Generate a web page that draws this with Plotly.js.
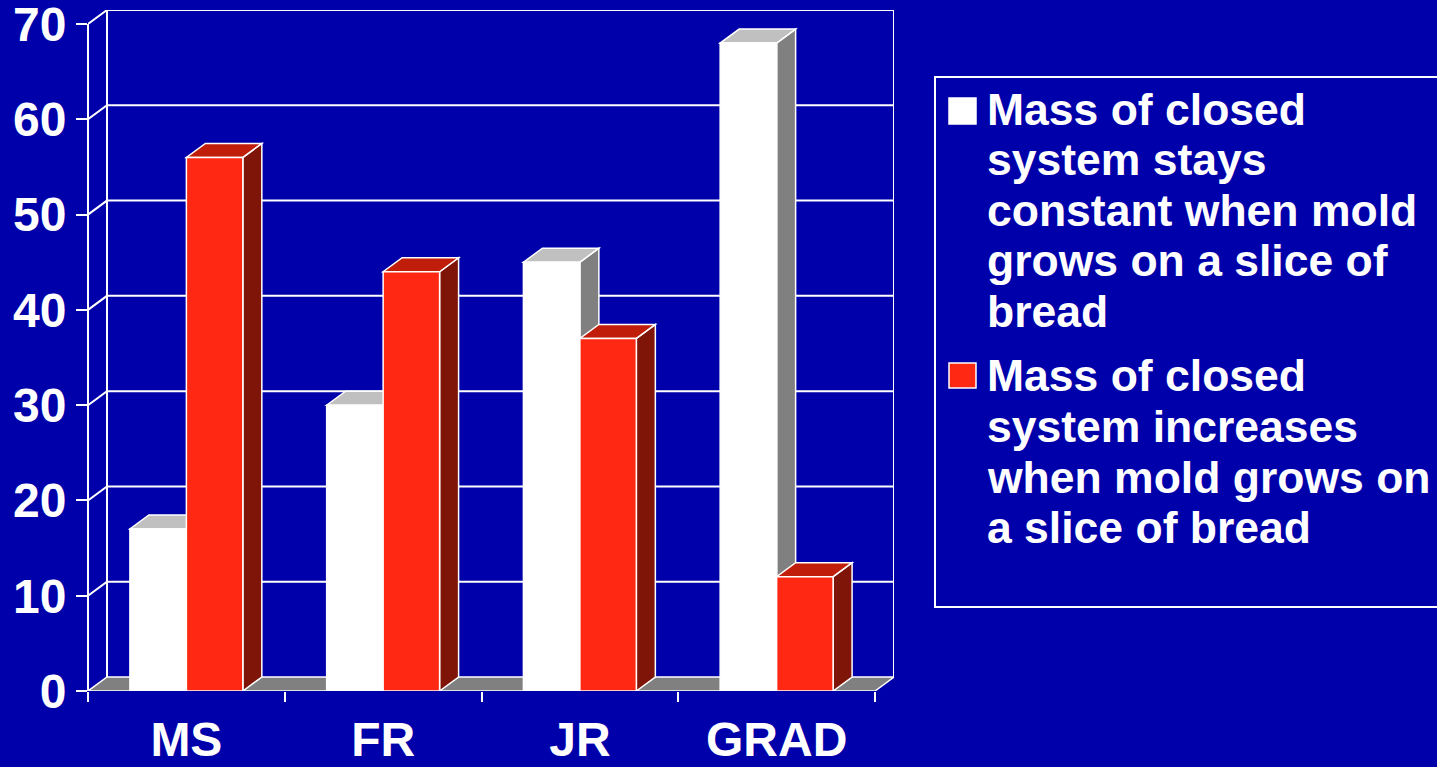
<!DOCTYPE html>
<html>
<head>
<meta charset="utf-8">
<script src="https://cdn.plot.ly/plotly-3.0.1.min.js"></script>
<style>
html,body{margin:0;padding:0;background:#0000AA;overflow:hidden;}
#chart{width:1437px;height:767px;}
</style>
</head>
<body>
<div id="chart"></div>
<script>
// ---------------- DATA ----------------
const categories = ["MS", "FR", "JR", "GRAD"];
const constantValues = [17, 30, 45, 68];
const increasesValues = [56, 44, 37, 12];
const constantNameLines = ["Mass of closed", "system stays", "constant when mold", "grows on a slice of", "bread"];
const increasesNameLines = ["Mass of closed", "system increases", "when mold grows on", "a slice of bread"];
const yTickValues = [0, 10, 20, 30, 40, 50, 60, 70];

// ---------------- STYLE / LAYOUT CONSTANTS ----------------
const BG = "#0000AA";
const WHITE_FRONT = "#FFFFFF", WHITE_TOP = "#C0C0C0", WHITE_SIDE = "#808080";
const RED_FRONT = "#FF2812", RED_TOP = "#C01E0A", RED_SIDE = "#7F1408";
const FLOOR = "#808080";
const FONT = "Liberation Sans, Arial, Helvetica, sans-serif";

const W = 1437, H = 767;
const L = 88, R = 543, T = 10, B = 76;
const DX = 19, DY = 14;           // 3-D depth in pixels
const plotW = W - L - R, plotH = H - T - B;
const yTop = yTickValues[yTickValues.length - 1];
const pxPerY = (plotH - DY) / yTop;
const pxPerX = (plotW - DX) / categories.length;
const dxD = DX / pxPerX, dyD = DY / pxPerY;  // depth in data units
const xLo = -0.5, xHi = categories.length - 0.5;
const BARW = 0.287;

const px2paperX = px => (px - L) / plotW;
const px2paperY = py => (H - B - py) / plotH;

// ---------------- TRACES ----------------
const traces = [
  {
    type: "bar", name: constantNameLines.join(" "),
    x: categories, y: constantValues,
    width: BARW, offset: -BARW,
    marker: {color: WHITE_FRONT, line: {color: "#FFFFFF", width: 1.5}},
    showlegend: false
  },
  {
    type: "bar", name: increasesNameLines.join(" "),
    x: categories, y: increasesValues,
    width: BARW, offset: 0,
    marker: {color: RED_FRONT, line: {color: "#FFFFFF", width: 1.5}},
    showlegend: false
  }
];

// ---------------- SHAPES (3-D frame & faces) ----------------
const shapes = [];
const line = {color: "#FFFFFF", width: 2};
const p = (x, y) => x + "," + y;

// floor
shapes.push({
  type: "path", xref: "x", yref: "y", layer: "below",
  path: "M" + p(xLo, 0) + "L" + p(xHi, 0) + "L" + p(xHi + dxD, dyD) + "L" + p(xLo + dxD, dyD) + "Z",
  fillcolor: FLOOR, line: {color: "#FFFFFF", width: 1.5}
});
// back wall gridlines with left-wall diagonals
yTickValues.forEach(v => {
  if (v === 0) return;
  shapes.push({
    type: "path", xref: "x", yref: "y", layer: "below",
    path: "M" + p(xLo, v) + "L" + p(xLo + dxD, v + dyD) + "L" + p(xHi + dxD, v + dyD),
    line: line
  });
});
// back wall verticals
[xLo + dxD, xHi + dxD].forEach(x => {
  shapes.push({type: "line", xref: "x", yref: "y", layer: "below",
    x0: x, x1: x, y0: dyD, y1: yTop + dyD, line: line});
});
// front value axis line
shapes.push({type: "line", xref: "paper", yref: "y", layer: "below",
  x0: 0, x1: 0, y0: 0, y1: yTop, line: line});

// bar top and side faces
function faces(xl, xr, v, topCol, sideCol) {
  shapes.push({
    type: "path", xref: "x", yref: "y", layer: "below",
    path: "M" + p(xr, 0) + "L" + p(xr + dxD, dyD) + "L" + p(xr + dxD, v + dyD) + "L" + p(xr, v) + "Z",
    fillcolor: sideCol, line: {color: "#FFFFFF", width: 1.5}
  });
  shapes.push({
    type: "path", xref: "x", yref: "y", layer: "below",
    path: "M" + p(xl, v) + "L" + p(xr, v) + "L" + p(xr + dxD, v + dyD) + "L" + p(xl + dxD, v + dyD) + "Z",
    fillcolor: topCol, line: {color: "#FFFFFF", width: 1.5}
  });
}
categories.forEach((c, i) => {
  faces(i - BARW, i, constantValues[i], WHITE_TOP, WHITE_SIDE);
  faces(i, i + BARW, increasesValues[i], RED_TOP, RED_SIDE);
});

// ---------------- LEGEND (box, swatches, text) ----------------
const annotations = [];
const LEG_FONT = {family: FONT, size: 44.5, color: "#FFFFFF", weight: 700};
const LINE_GAP = 50.6;
shapes.push({type: "rect", xref: "paper", yref: "paper",
  x0: px2paperX(935), x1: px2paperX(1450), y0: px2paperY(77), y1: px2paperY(607),
  line: {color: "#FFFFFF", width: 2}, fillcolor: "rgba(0,0,0,0)"});
const legendItems = [
  {lines: constantNameLines, color: WHITE_FRONT, firstY: 109, sw: [98, 124]},
  {lines: increasesNameLines, color: RED_FRONT, firstY: 376, sw: [363, 388]}
];
legendItems.forEach(it => {
  shapes.push({type: "rect", xref: "paper", yref: "paper",
    x0: px2paperX(949), x1: px2paperX(976), y0: px2paperY(it.sw[0]), y1: px2paperY(it.sw[1]),
    fillcolor: it.color, line: {color: "#FFFFFF", width: 1.5}});
  it.lines.forEach((t, k) => {
    annotations.push({
      xref: "paper", yref: "paper", x: px2paperX(985), y: px2paperY(it.firstY + k * LINE_GAP),
      xanchor: "left", yanchor: "middle", showarrow: false, text: t, font: LEG_FONT
    });
  });
});

// ---------------- LAYOUT ----------------
const layout = {
  width: W, height: H,
  margin: {l: L, r: R, t: T, b: B, pad: 0},
  paper_bgcolor: BG, plot_bgcolor: BG,
  barmode: "overlay",
  showlegend: false,
  font: {family: FONT, color: "#FFFFFF"},
  xaxis: {
    type: "category", range: [xLo, xHi + dxD], fixedrange: true,
    tickson: "boundaries", ticks: "outside", ticklen: 10, tickwidth: 2, tickcolor: "#FFFFFF",
    showgrid: false, zeroline: false, showline: false,
    tickfont: {family: FONT, size: 48, color: "#FFFFFF", weight: 700},
    ticklabelstandoff: 16, ticklabeloverflow: "allow"
  },
  yaxis: {
    range: [0, yTop + dyD], fixedrange: true,
    tickmode: "array", tickvals: yTickValues, ticktext: yTickValues.map(String),
    ticks: "outside", ticklen: 11, tickwidth: 2, tickcolor: "#FFFFFF",
    showgrid: false, zeroline: false, showline: false,
    tickfont: {family: FONT, size: 48, color: "#FFFFFF", weight: 700},
    ticklabeloverflow: "allow"
  },
  shapes: shapes,
  annotations: annotations
};

Plotly.newPlot("chart", traces, layout, {displayModeBar: false, staticPlot: true});
</script>
</body>
</html>
